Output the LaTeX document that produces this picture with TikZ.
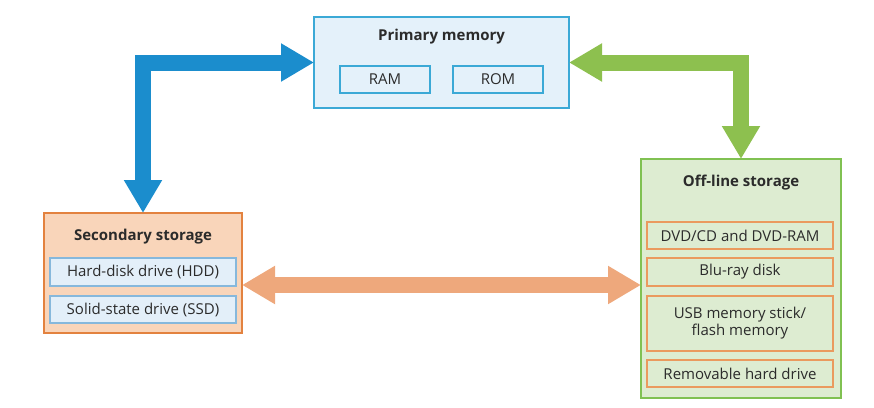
\documentclass[tikz,border=0pt]{standalone}
\usepackage{fontspec}
\setmainfont{Open Sans}
\usepackage{tikz}
\usetikzlibrary{arrows.meta,positioning}

\definecolor{pmfill}{HTML}{E4F1FA}
\definecolor{pmdraw}{HTML}{3BA9D6}
\definecolor{ssfill}{HTML}{F9D5BA}
\definecolor{ssdraw}{HTML}{E3823F}
\definecolor{hdfill}{HTML}{E3EFF9}
\definecolor{hddraw}{HTML}{86B8DC}
\definecolor{osfill}{HTML}{DDECD1}
\definecolor{osdraw}{HTML}{80C152}
\definecolor{odraw}{HTML}{EA9A5E}
\definecolor{bluearr}{HTML}{1B8DCD}
\definecolor{greenarr}{HTML}{8DC04F}
\definecolor{orangearr}{HTML}{EEA87C}
\definecolor{txt}{HTML}{2B2B2B}

\begin{document}
\begin{tikzpicture}[x=1pt,y=-1pt,node distance=9pt,
                    font=\fontsize{15}{17}\selectfont,text=txt]
	\tikzset{outer/.style={draw,line width=1.5pt,inner sep=0pt,outer sep=0pt},
	         inner/.style={draw,line width=1.2pt,inner sep=0pt,outer sep=0pt,align=center},
	         title/.style={font=\fontsize{15}{17}\selectfont\bfseries,inner sep=0pt},
	         bigarrow/.style={line width=16pt,line join=miter,
	             {Triangle[length=33pt,width=36pt]}-{Triangle[length=33pt,width=36pt]}}}
	\useasboundingbox (0,0) rectangle (874,407);

	% main boxes
	\node[outer,fill=pmfill,draw=pmdraw,minimum width=255pt,minimum height=91pt] (prim) at (441.5,62.5) {};
	\node[outer,fill=ssfill,draw=ssdraw,minimum width=198pt,minimum height=120pt] (sec)  at (143,273) {};
	\node[outer,fill=osfill,draw=osdraw,minimum width=200pt,minimum height=239pt] (off)  at (741,278.5) {};

	% primary memory
	\node[title] (ptitle) at (441.5,37) {Primary memory};
	\node[inner,draw=pmdraw,minimum width=90pt,minimum height=27pt] (ram) at (385,79.5) {RAM};
	\node[inner,draw=pmdraw,minimum width=90pt,minimum height=27pt] (rom) at (498,79.5) {ROM};

	% secondary storage
	\node[title] (stitle) at (143,237) {Secondary storage};
	\node[inner,fill=hdfill,draw=hddraw,minimum width=186pt,minimum height=28pt] (hdd) at (143,272) {Hard-disk drive (HDD)};
	\node[inner,fill=hdfill,draw=hddraw,minimum width=186pt,minimum height=27pt] (ssd) [below=10pt of hdd] {Solid-state drive (SSD)};

	% off-line storage
	\node[title] (otitle) at (741,183) {Off-line storage};
	\node[inner,draw=odraw,minimum width=186pt,minimum height=27pt] (dvd) at (740,235.5) {DVD/CD and DVD-RAM};
	\node[inner,draw=odraw,minimum width=186pt,minimum height=28pt] (blu) [below=of dvd] {Blu-ray disk};
	\node[inner,draw=odraw,minimum width=186pt,minimum height=55pt] (usb) [below=10pt of blu] {USB memory stick/\\flash memory};
	\node[inner,draw=odraw,minimum width=186pt,minimum height=27pt] (rem) [below=of usb] {Removable hard drive};

	% arrows
	\draw[bigarrow,draw=bluearr]     (sec.north) |- (prim.west);
	\draw[bigarrow,draw=greenarr]    (prim.east) -| (off.north);
	\draw[bigarrow,draw=orangearr]   ([yshift=-12pt]sec.east) -- ([yshift=-12pt]sec.east -| off.west);
\end{tikzpicture}
\end{document}
